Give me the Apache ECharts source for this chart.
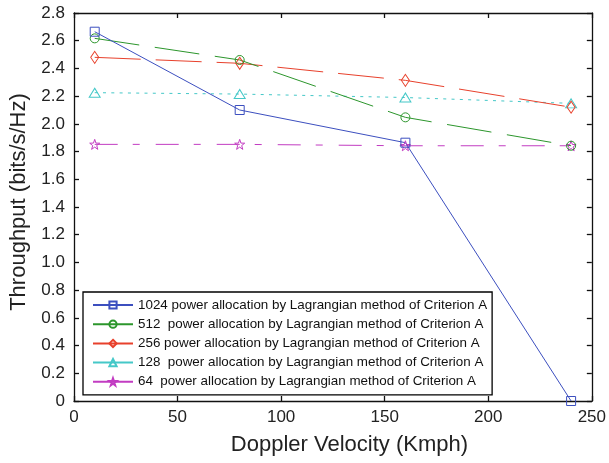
<!DOCTYPE html>
<html>
<head>
<meta charset="utf-8">
<script src="https://cdn.jsdelivr.net/npm/echarts@6/dist/echarts.min.js"></script>
<style>
  html, body { margin: 0; padding: 0; background: #fff; }
  #chart { width: 609px; height: 463px; }
</style>
</head>
<body>
<div id="chart"></div>
<script>
// doppler velocity (Kmph)
const velocity = [10, 80, 160, 240]
const names = [
  '1024 power allocation by Lagrangian method of Criterion A',
  '512  power allocation by Lagrangian method of Criterion A',
  '256 power allocation by Lagrangian method of Criterion A',
  '128  power allocation by Lagrangian method of Criterion A',
  '64  power allocation by Lagrangian method of Criterion A'
]
const thr1024 = [2.665, 2.10, 1.864, 0.0]
const thr512 = [2.617, 2.461, 2.047, 1.842]
const thr256 = [2.48, 2.437, 2.314, 2.12]
const thr128 = [2.225, 2.215, 2.19, 2.148]
const thr64 = [1.852, 1.852, 1.842, 1.842]
const xTicks = [0, 50, 100, 150, 200, 250]
const yTicks = [0, 0.2, 0.4, 0.6, 0.8, 1.0, 1.2, 1.4, 1.6, 1.8, 2.0, 2.2, 2.4, 2.6, 2.8]

const FONT = '"Liberation Sans", Arial, Helvetica, sans-serif'
const star = 'path://M0,-10 L2.35,-3.24 L9.51,-3.09 L3.8,1.24 L5.88,8.09 L0,4 L-5.88,8.09 L-3.8,1.24 L-9.51,-3.09 L-2.35,-3.24 Z'

function pts(vals) {
  return velocity.map((v, i) => [v, vals[i]])
}

function makeSeries(name, vals, color, symbol, size, dash) {
  return {
    name: name,
    type: 'line',
    data: pts(vals),
    symbol: symbol,
    symbolSize: size,
    showAllSymbol: true,
    itemStyle: { color: 'rgba(255,255,255,0)', borderColor: color, borderWidth: 1 },
    lineStyle: { color: color, width: 1, type: dash },
    emphasis: { disabled: true }
  }
}

const chart = echarts.init(document.getElementById('chart'))

const axisLineStyle = { color: '#111', width: 1.3 }

chart.setOption({
  animation: false,
  backgroundColor: '#fff',
  grid: { left: 73, right: 17, top: 13, bottom: 62 },
  legend: {
    orient: 'vertical',
    left: 83,
    top: 292,
    padding: [6, 5, 6, 9],
    itemWidth: 40,
    itemHeight: 9,
    itemGap: 5.2,
    backgroundColor: '#fff',
    borderColor: '#000',
    borderWidth: 1.3,
    lineStyle: { type: 'solid' },
    textStyle: { fontFamily: FONT, fontSize: 13.4, color: '#111', lineHeight: 14 },
    data: names
  },
  xAxis: [
    {
      type: 'value', min: 0, max: 250, interval: 50,
      axisLine: { show: true, onZero: false, lineStyle: axisLineStyle },
      axisTick: { show: true, inside: true, length: 5, lineStyle: axisLineStyle },
      splitLine: { show: false },
      axisLabel: { margin: 8, fontFamily: FONT, fontSize: 17, color: '#222',
        formatter: v => xTicks.includes(v) ? String(v) : '' },
      name: 'Doppler Velocity (Kmph)',
      nameLocation: 'middle',
      nameGap: 33,
      nameTextStyle: { fontFamily: FONT, fontSize: 22, color: '#222', padding: [0, 0, 0, 33] }
    },
    {
      type: 'value', position: 'top', min: 0, max: 250, interval: 50,
      axisLine: { show: true, onZero: false, lineStyle: axisLineStyle },
      axisTick: { show: true, inside: true, length: 5, lineStyle: axisLineStyle },
      splitLine: { show: false },
      axisLabel: { show: false }
    }
  ],
  yAxis: [
    {
      type: 'value', min: 0, max: 2.8, interval: 0.2,
      axisLine: { show: true, onZero: false, lineStyle: axisLineStyle },
      axisTick: { show: true, inside: true, length: 5, lineStyle: axisLineStyle },
      splitLine: { show: false },
      axisLabel: { margin: 9, fontFamily: FONT, fontSize: 17, color: '#222',
        formatter: v => {
          const t = yTicks.find(y => Math.abs(y - v) < 1e-6)
          if (t === undefined) return ''
          return t === 0 ? '0' : t.toFixed(1)
        } },
      name: 'Throughput (bits/s/Hz)',
      nameLocation: 'middle',
      nameGap: 44,
      nameTextStyle: { fontFamily: FONT, fontSize: 22, color: '#222', padding: [0, 0, 0, 10] }
    },
    {
      type: 'value', position: 'right', min: 0, max: 2.8, interval: 0.2,
      axisLine: { show: true, onZero: false, lineStyle: axisLineStyle },
      axisTick: { show: true, inside: true, length: 5, lineStyle: axisLineStyle },
      splitLine: { show: false },
      axisLabel: { show: false }
    }
  ],
  series: [
    makeSeries(names[4], thr64, '#c23cc2', star, 10, [23, 15, 7, 16]),
    makeSeries(names[3], thr128, '#45c8c8', 'triangle', [11, 9], [3, 5.3]),
    makeSeries(names[2], thr256, '#e8412c', 'diamond', [8, 12], [46, 15]),
    makeSeries(names[1], thr512, '#2c962c', 'circle', 9, [45, 15.7]),
    makeSeries(names[0], thr1024, '#3c4fbf', 'rect', 9, 'solid')
  ]
})
</script>
</body>
</html>
